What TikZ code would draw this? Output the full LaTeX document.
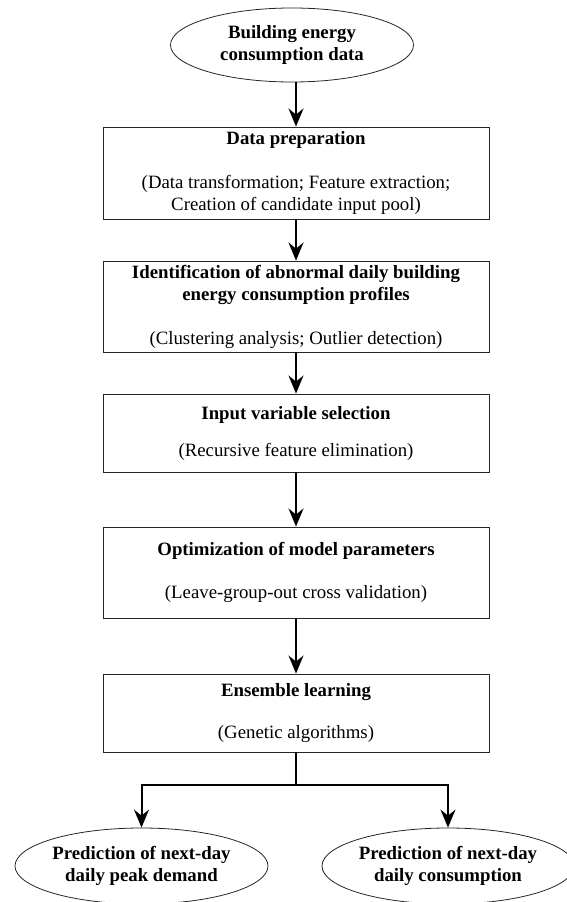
\documentclass[tikz,border=0pt]{standalone}
\usepackage{fontspec}
\setmainfont{Liberation Serif}
\usetikzlibrary{shapes.geometric,arrows.meta}
\begin{document}
\begin{tikzpicture}[x=1pt,y=-1pt,
  txt/.style={font=\fontsize{18.8}{22}\selectfont, align=center},
  stepbox/.style={txt, draw=black!85, line width=0.9pt, rectangle, minimum width=386pt, inner sep=0pt},
  oval/.style={txt, draw=black!85, line width=0.8pt, ellipse, inner sep=0pt},
  flow/.style={line width=2pt, -{Stealth[length=18pt,width=15pt,inset=6pt]}},
  link/.style={line width=2pt}
]
\useasboundingbox (0,0) rectangle (567,902);
\node[oval, minimum width=243pt, minimum height=74pt] (src) at (292,45) {\textbf{Building energy}\\\textbf{consumption data}};
\node[stepbox, minimum height=92pt] (b1) at (296,173) {\textbf{Data preparation}\\[22pt](Data transformation; Feature extraction;\\Creation of candidate input pool)};
\node[stepbox, minimum height=91pt] (b2) at (296,306.5) {\textbf{Identification of abnormal daily building}\\\textbf{energy consumption profiles}\\[22pt](Clustering analysis; Outlier detection)};
\node[stepbox, minimum height=78pt] (b3) at (296,433) {\textbf{Input variable selection}\\[15pt](Recursive feature elimination)};
\node[stepbox, minimum height=91pt] (b4) at (296,572.5) {\textbf{Optimization of model parameters}\\[21pt](Leave-group-out cross validation)};
\node[stepbox, minimum height=78pt] (b5) at (296,713) {\textbf{Ensemble learning}\\[20pt](Genetic algorithms)};
\node[oval, minimum width=253pt, minimum height=76pt] (o1) at (141.5,866) {\textbf{Prediction of next-day}\\\textbf{daily peak demand}};
\node[oval, minimum width=250pt, minimum height=76pt] (o2) at (448,866) {\textbf{Prediction of next-day}\\\textbf{daily consumption}};
\coordinate (j) at (296,785);
\coordinate (jl) at (141.5,785);
\coordinate (jr) at (448,785);
\draw[flow] (src.south -| b1.north) -- (b1.north);
\draw[flow] (b1) -- (b2);
\draw[flow] (b2) -- (b3);
\draw[flow] (b3) -- (b4);
\draw[flow] (b4) -- (b5);
\draw[link] (b5.south) -- (j);
\draw[link] ([xshift=-1pt]jl) -- ([xshift=1pt]jr);
\draw[flow] (jl) -- (jl |- o1.north);
\draw[flow] (jr) -- (jr |- o2.north);
\end{tikzpicture}
\end{document}
